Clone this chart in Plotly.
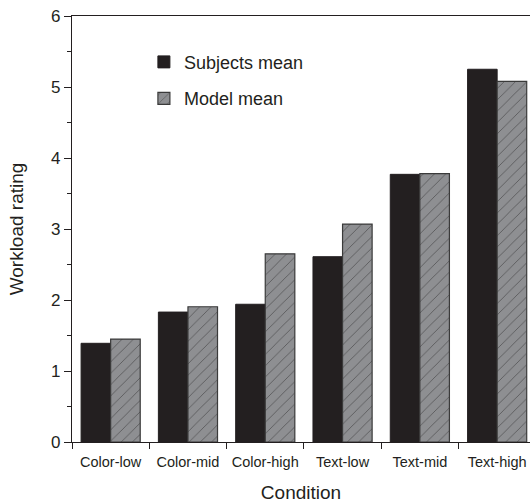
import plotly.graph_objects as go

categories = ["Color-low", "Color-mid", "Color-high", "Text-low", "Text-mid", "Text-high"]
subjects_mean = [1.39, 1.83, 1.94, 2.61, 3.77, 5.25]
model_mean = [1.45, 1.905, 2.65, 3.07, 3.78, 5.08]

ink = "#231f20"
fig = go.Figure()
fig.add_trace(go.Bar(
    x=categories, y=subjects_mean, name="Subjects mean", legendgroup="a",
    marker=dict(color=ink, line=dict(color=ink, width=1)),
))
fig.add_trace(go.Bar(
    x=categories, y=model_mean, name="Model mean", legendgroup="b",
    marker=dict(color="#8e8f92", line=dict(color="#3a3a3a", width=1.2),
                pattern=dict(shape="/", fgcolor="#1a1a1a", bgcolor="#8e8f92",
                             size=8, solidity=0.1)),
))

fig.update_layout(
    width=530, height=503,
    margin=dict(l=72, r=0, t=16, b=61, autoexpand=False),
    paper_bgcolor="white", plot_bgcolor="white",
    barmode="group", bargap=0.235, bargroupgap=0,
    font=dict(family="Liberation Sans, Arial, sans-serif", color=ink),
    showlegend=True,
    legend=dict(x=0.157, y=0.935, xanchor="left", yanchor="top",
                font=dict(size=18, color=ink), bgcolor="rgba(0,0,0,0)",
                traceorder="grouped", tracegroupgap=10),
    xaxis=dict(
        type="category", range=[-0.5, 5.425], automargin=False,
        showline=True, linecolor=ink, linewidth=1.2, mirror=True,
        ticks="outside", tickson="boundaries", ticklen=6, tickcolor=ink,
        tickangle=0, ticklabelstandoff=6,
        tickfont=dict(size=14.5, color=ink),
        title=dict(text="Condition", font=dict(size=19, color=ink), standoff=20),
        showgrid=False, zeroline=False,
    ),
    yaxis=dict(
        range=[0, 6], tickvals=[0, 1, 2, 3, 4, 5, 6], automargin=False,
        showline=True, linecolor=ink, linewidth=1.2,
        ticks="outside", ticklen=7, tickcolor=ink,
        minor=dict(tickvals=[0.5, 1.5, 2.5, 3.5, 4.5, 5.5], ticks="outside", ticklen=4, tickcolor=ink),
        tickfont=dict(size=17, color=ink),
        title=dict(text="Workload rating", font=dict(size=19, color=ink), standoff=22),
        showgrid=False, zeroline=False,
    ),
)

fig.write_html("out.html", config={"displayModeBar": False},
               post_script="document.body.style.margin='0';document.body.style.overflow='hidden';")
